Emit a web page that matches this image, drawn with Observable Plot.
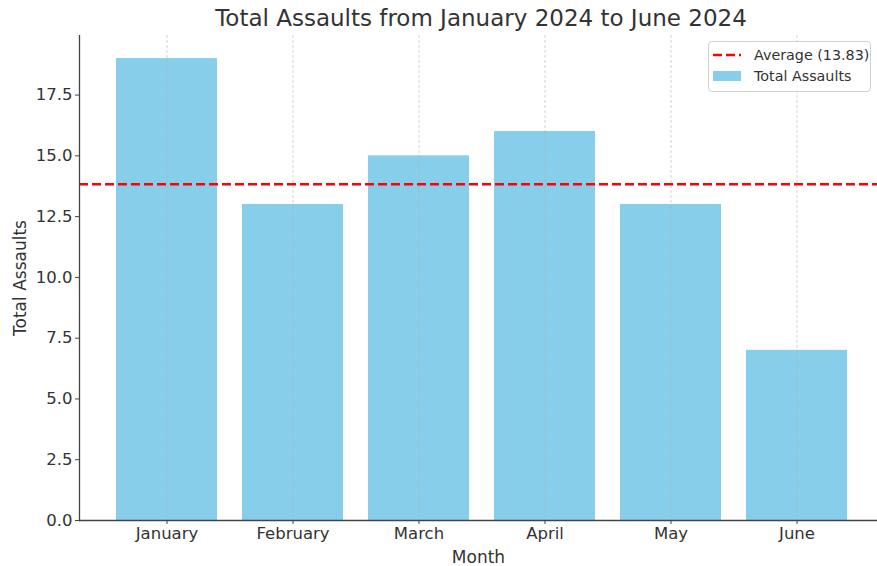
<!DOCTYPE html>
<html>
<head>
<meta charset="utf-8">
<script src="https://cdn.jsdelivr.net/npm/d3@7"></script>
<script src="https://cdn.jsdelivr.net/npm/@observablehq/plot@0.6"></script>
<style>
  html, body { margin: 0; padding: 0; background: #fff; }
  #wrap { position: relative; width: 877px; height: 566px; font-family: "DejaVu Sans", sans-serif; }
  #title { position: absolute; left: 0; top: 0; width: 962px; height: 35px; text-align: center;
           font-size: 23px; color: #333; line-height: 36px; white-space: nowrap; }
  #chart { position: absolute; left: 0; top: 35px; }
  #legend { position: absolute; left: 708px; top: 41px; width: 161px; height: 49px;
            border: 1px solid #d0d0d0; border-radius: 4px; background: rgba(255,255,255,0.8);
            font-size: 14.3px; color: #333; }
  .row { position: absolute; left: 4px; display: flex; align-items: center; }
  .sw { width: 28px; margin-right: 13px; }
</style>
</head>
<body>
<div id="wrap">
  <div id="title"></div>
  <div id="chart"></div>
  <div id="legend"></div>
</div>
<script>
const months = ["January", "February", "March", "April", "May", "June"];
const assaults = [19, 13, 15, 16, 13, 7];
const yTicks = [0, 2.5, 5, 7.5, 10, 12.5, 15, 17.5];
const titleText = "Total Assaults from January 2024 to June 2024";

const data = months.map((m, i) => ({month: m, value: assaults[i]}));
const avg = d3.mean(assaults);

document.getElementById("title").textContent = titleText;

const chart = Plot.plot({
  width: 877,
  height: 531,
  marginLeft: 79,
  marginRight: 0,
  marginTop: 0,
  marginBottom: 46,
  style: {fontFamily: "DejaVu Sans, sans-serif", color: "#333", background: "transparent"},
  x: {domain: months, range: [79, 883], paddingInner: 0.2, paddingOuter: 0.29, label: null},
  y: {domain: [0, 19.95], range: [485, 0], label: null},
  marks: [
    Plot.barY(data, {x: "month", y: "value", fill: "#87CEEB"}),
    Plot.gridX({stroke: "#b0b0b0", strokeOpacity: 0.7, strokeWidth: 0.8, strokeDasharray: "3,2"}),
    Plot.ruleY([avg], {stroke: "#ff0000", strokeWidth: 2.5, strokeDasharray: "9,4"}),
    Plot.axisX({tickSize: 4, tickPadding: 3, fontSize: 16.5, stroke: "#444", label: null}),
    Plot.axisX({tickSize: 0, fontSize: 17, label: "Month", labelAnchor: "center", labelArrow: "none",
                labelOffset: 42, tickFormat: () => ""}),
    Plot.axisY({ticks: yTicks, tickFormat: d => d.toFixed(1), tickSize: 4, tickPadding: 3,
                fontSize: 16.5, stroke: "#444", label: null}),
    Plot.axisY({ticks: [], tickSize: 0, fontSize: 17, label: "Total Assaults", labelAnchor: "center",
                labelArrow: "none", labelOffset: 66}),
    Plot.frame({anchor: "left", stroke: "#444", strokeWidth: 1.3}),
    Plot.frame({anchor: "bottom", stroke: "#444", strokeWidth: 1.3})
  ]
});
document.getElementById("chart").appendChild(chart);

const legend = document.getElementById("legend");
legend.innerHTML = `
  <div class="row" style="top:4px"><svg class="sw" width="28" height="18"><line x1="0" x2="28" y1="9" y2="9" stroke="#ff0000" stroke-width="2.5" stroke-dasharray="9,4"/></svg><span>Average (${avg.toFixed(2)})</span></div>
  <div class="row" style="top:25px"><svg class="sw" width="28" height="18"><rect x="0" y="4" width="28" height="10" fill="#87CEEB"/></svg><span>Total Assaults</span></div>`;
</script>
</body>
</html>
